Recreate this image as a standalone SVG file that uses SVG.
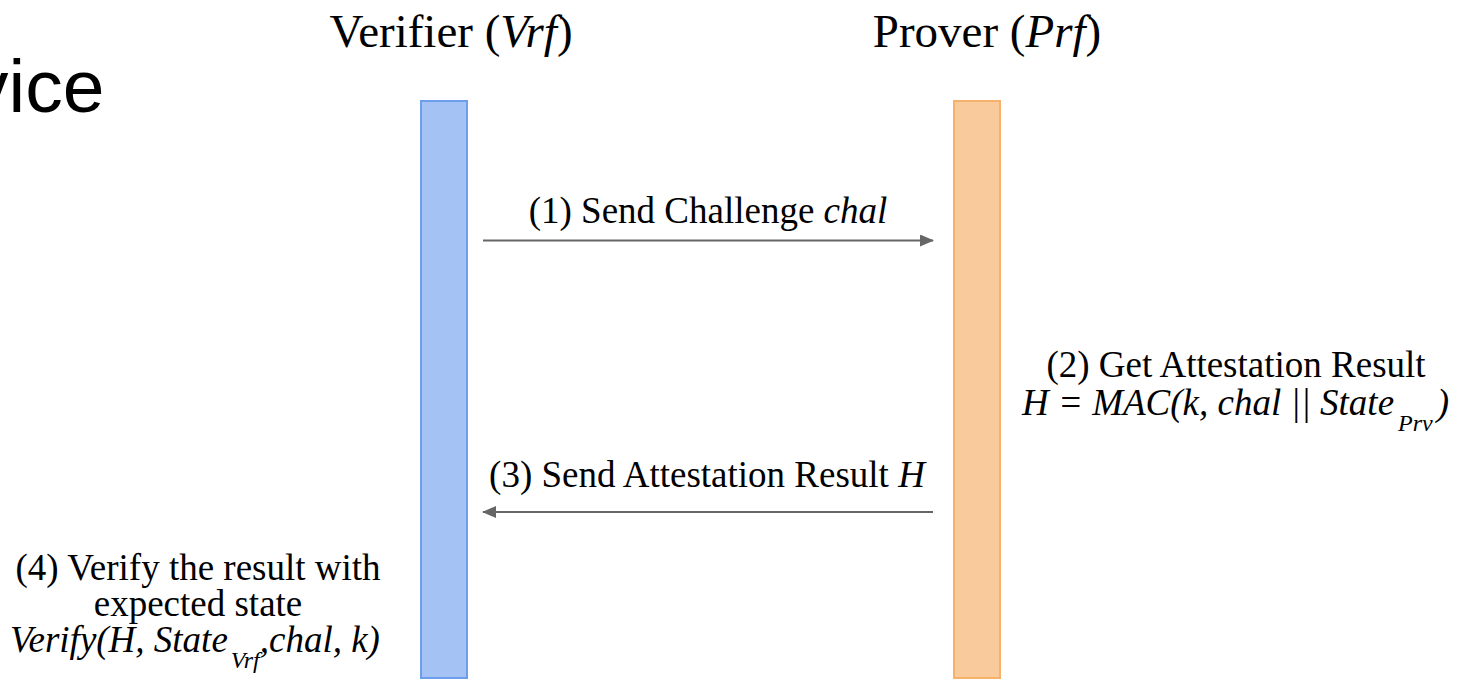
<svg xmlns="http://www.w3.org/2000/svg" width="1460" height="684" viewBox="0 0 1460 684">
<style>
.t{font-family:"Liberation Serif","Times New Roman",serif;font-size:37px;fill:#000}
.ti{font-style:italic}
.hd{font-family:"Liberation Serif","Times New Roman",serif;font-size:47px;fill:#000}
.sub{font-size:24px;font-style:italic}
.conn{stroke:#666;stroke-width:2;fill:none}
</style>
<defs>
<marker id="ah" markerWidth="7" markerHeight="6" refX="6.5" refY="3" orient="auto" markerUnits="strokeWidth">
<path d="M0,0 L7,3 L0,6 Z" fill="#666"/>
</marker>
</defs>
<rect width="1460" height="684" fill="#fff"/>
<text x="-29" y="112" font-family="'Liberation Sans',Arial,sans-serif" font-size="75" fill="#000">vice</text>
<g id="verifier">
<text class="hd" x="451" y="47" text-anchor="middle">Verifier (<tspan class="ti">Vrf</tspan>)</text>
<rect x="421" y="101" width="46" height="577" fill="#a4c2f4" stroke="#6d9eeb" stroke-width="2"/>
</g>
<g id="prover">
<text class="hd" x="987" y="47" text-anchor="middle">Prover (<tspan class="ti">Prf</tspan>)</text>
<rect x="954" y="101" width="46" height="577" fill="#f9cb9c" stroke="#f6b26b" stroke-width="2"/>
</g>
<g id="connectors">
<line class="conn" x1="483" y1="240.5" x2="933" y2="240.5" marker-end="url(#ah)"/>
<line class="conn" x1="933" y1="512" x2="483" y2="512" marker-end="url(#ah)"/>
</g>
<g id="step1">
<text class="t" x="708" y="223" text-anchor="middle">(1) Send Challenge <tspan class="ti">chal</tspan></text>
</g>
<g id="step2">
<text class="t"><tspan x="1236" y="377" text-anchor="middle">(2) Get Attestation Result</tspan><tspan class="ti" x="1022" y="415">H = MAC(k, chal || State</tspan><tspan class="sub" dx="4" dy="16">Prv</tspan><tspan class="ti" dx="4" dy="-16">)</tspan></text>
</g>
<g id="step3">
<text class="t" x="707" y="487" text-anchor="middle">(3) Send Attestation Result <tspan class="ti">H</tspan></text>
</g>
<g id="step4">
<text class="t"><tspan x="198" y="580" text-anchor="middle">(4) Verify the result with</tspan><tspan x="198" y="616" text-anchor="middle">expected state</tspan><tspan class="ti" x="10" y="652">Verify(H, State</tspan><tspan class="sub" dx="3" dy="16">Vrf</tspan><tspan class="ti" dy="-16">,chal, k)</tspan></text>
</g>
</svg>
